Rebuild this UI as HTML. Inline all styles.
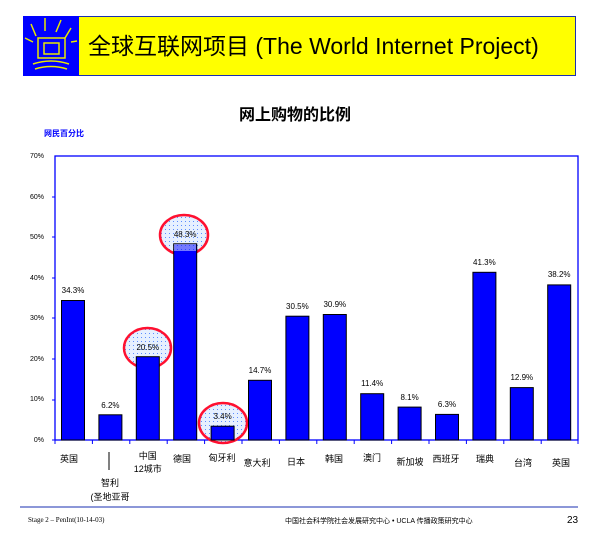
<!DOCTYPE html>
<html><head><meta charset="utf-8"><style>
body{margin:0;width:600px;height:540px;background:#fff;position:relative;overflow:hidden;font-family:"Liberation Sans","Noto Sans CJK SC",sans-serif}
.a{position:absolute;white-space:nowrap}
</style></head><body>
<div class="a" style="left:23px;top:16px;width:551px;height:58px;border:1px solid #1a2fb0;background:#ffff00"></div>
<div class="a" style="left:23px;top:16px;width:56px;height:60px;background:#0000ff"></div>
<svg class="a" style="left:23px;top:16px" width="56" height="60">
<g stroke="#e8e800" stroke-width="1.5" fill="none">
<path d="M8 8 L13 20 M22 2 L22 15 M38 4 L33 16 M48 12 L42 22 M2 22 L10 26 M48 26 L54 25"/>
<path d="M15 22 L42 22 L42 42 L15 42 Z"/><path d="M21 27 L36 27 L36 38 L21 38 Z"/>
<path d="M10 48 Q28 42 46 48 M12 53 Q28 48 44 53"/>
</g></svg>
<div class="a" style="left:88px;top:27px;font-size:23px;color:#000">全球互联网项目 (The World Internet Project)</div>
<div class="a" style="left:0;width:590px;text-align:center;top:101px;font-size:16px;font-weight:bold">网上购物的比例</div>
<div class="a" style="left:44px;top:128px;font-size:8px;font-weight:bold;color:#0000ff">网民百分比</div>
<svg class="a" style="left:0;top:0" width="600" height="540" font-family="Liberation Sans,Noto Sans CJK SC,sans-serif">
<defs><pattern id="d" width="4" height="4" patternUnits="userSpaceOnUse"><rect width="4" height="4" fill="#e6f0ff"/><rect x="1" y="1" width="1" height="1" fill="#5b8cff"/></pattern></defs>
<rect x="55" y="156" width="523" height="284" fill="none" stroke="#0000ff" stroke-width="1.3"/>
<g font-size="7" text-anchor="end" fill="#000">
<text x="44" y="158">70%</text><text x="44" y="199">60%</text><text x="44" y="239">50%</text><text x="44" y="280">40%</text><text x="44" y="320">30%</text><text x="44" y="361">20%</text><text x="44" y="401">10%</text><text x="44" y="442">0%</text>
</g>
<g stroke="#0000ff"><path d="M52 197H55M52 237H55M52 278H55M52 318H55M52 359H55M52 400H55M52 440H55"/>
<path d="M55 440v4M92.4 440v4M129.8 440v4M167.2 440v4M204.6 440v4M242 440v4M279.4 440v4M316.8 440v4M354.2 440v4M391.6 440v4M429 440v4M466.4 440v4M503.8 440v4M541.2 440v4M578 440v4"/></g>
<ellipse cx="184" cy="235" rx="24" ry="20" fill="url(#d)" stroke="#ff1030" stroke-width="2.5"/>
<ellipse cx="147.5" cy="348" rx="23.5" ry="20" fill="url(#d)" stroke="#ff1030" stroke-width="2.5"/>
<ellipse cx="223" cy="423" rx="24" ry="20" fill="url(#d)" stroke="#ff1030" stroke-width="2.5"/>
<g fill="#0000ff" stroke="#000" stroke-width="1">
<rect x="61.5" y="300.5" width="23" height="139.5"/>
<rect x="98.9" y="414.8" width="23" height="25.2"/>
<rect x="136.3" y="356.7" width="23" height="83.3"/>
<rect x="173.7" y="243.8" width="23" height="196.2"/>
<rect x="211.1" y="426.2" width="23" height="13.8"/>
<rect x="248.5" y="380.3" width="23" height="59.7"/>
<rect x="285.9" y="316.2" width="23" height="123.8"/>
<rect x="323.3" y="314.5" width="23" height="125.5"/>
<rect x="360.7" y="393.7" width="23" height="46.3"/>
<rect x="398.1" y="407.1" width="23" height="32.9"/>
<rect x="435.5" y="414.4" width="23" height="25.6"/>
<rect x="472.9" y="272.3" width="23" height="167.7"/>
<rect x="510.3" y="387.6" width="23" height="52.4"/>
<rect x="547.7" y="284.9" width="23" height="155.1"/>
</g>
<rect x="174" y="244" width="22" height="7" fill="url(#d)" opacity="0.5"/>
<g font-size="8" text-anchor="middle" fill="#000">
<text x="73" y="293">34.3%</text><text x="110.4" y="408">6.2%</text><text x="147.8" y="350">20.5%</text><text x="185.2" y="237">48.3%</text><text x="222.6" y="419">3.4%</text><text x="260" y="373">14.7%</text><text x="297.4" y="309">30.5%</text><text x="334.8" y="307">30.9%</text><text x="372.2" y="386">11.4%</text><text x="409.6" y="400">8.1%</text><text x="447" y="407">6.3%</text><text x="484.4" y="265">41.3%</text><text x="521.8" y="380">12.9%</text><text x="559.2" y="277">38.2%</text>
</g>
<path d="M109 452V470" stroke="#000"/>
<g font-size="9" text-anchor="middle" fill="#000">
<text x="69" y="462">英国</text>
<text x="110" y="486">智利</text><text x="110" y="500">(圣地亚哥</text>
<text x="147.8" y="459">中国</text><text x="147.8" y="472">12城市</text>
<text x="182" y="462">德国</text><text x="222" y="461">匈牙利</text><text x="257" y="466">意大利</text><text x="296" y="465">日本</text><text x="334" y="462">韩国</text><text x="372" y="461">澳门</text><text x="410" y="465">新加坡</text><text x="446" y="462">西班牙</text><text x="485" y="462">瑞典</text><text x="523" y="466">台湾</text><text x="561" y="466">英国</text>
</g>
<path d="M20 507H578" stroke="#1a2fb0" stroke-width="1"/>
<text x="28" y="522" font-size="7" font-family="Liberation Serif,serif">Stage 2 – PenInt(10-14-03)</text>
<text x="285" y="523" font-size="7">中国社会科学院社会发展研究中心 • UCLA 传播政策研究中心</text>
<text x="567" y="523" font-size="10">23</text>
</svg>
</body></html>
